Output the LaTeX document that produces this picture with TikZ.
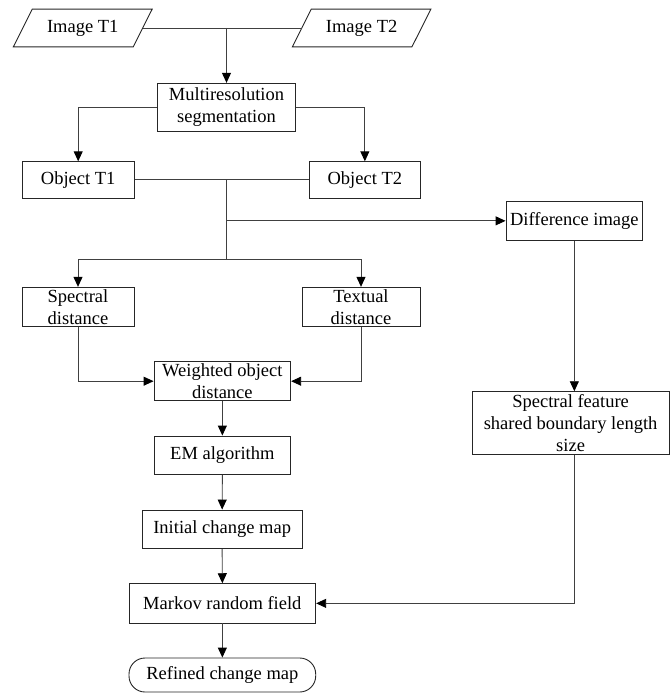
\documentclass[tikz,border=0pt]{standalone}
\usepackage{fontspec}
\setmainfont{Liberation Serif}
\usetikzlibrary{arrows.meta}
\tikzset{
  box/.style={draw=black!85, line width=0.9pt, inner sep=0pt, align=center,
    font=\fontsize{18.5}{22}\selectfont},
  para/.style={inner sep=0pt, align=center, font=\fontsize{18.5}{22}\selectfont},
  conn/.style={draw=black!75, line width=0.9pt},
  arr/.style={conn, -{Triangle[length=10pt,width=9pt,color=black]}},
}
\begin{document}
\begin{tikzpicture}[x=1pt,y=-1pt]
\useasboundingbox (0,0) rectangle (670,693);
% inputs (parallelograms)
\node[para, minimum width=119.5, minimum height=37.4] (t1) at (82.75,28) {Image T1};
\node[para, minimum width=119.2, minimum height=37.4] (t2) at (361.6,28) {Image T2};
\foreach \n in {t1,t2}{
  \draw[black!85, line width=0.9pt] ([xshift=9.5pt]\n.north west) -- ([xshift=9.5pt]\n.north east)
     -- ([xshift=-9.5pt]\n.south east) -- ([xshift=-9.5pt]\n.south west) -- cycle;
}
\node[box, minimum width=138.4, minimum height=48.4] (ms) at (226.5,107.5) {Multiresolution\\segmentation};
\node[box, minimum width=111.7, minimum height=36.3] (o1) at (78.2,179.9) {Object T1};
\node[box, minimum width=111.7, minimum height=36.3] (o2) at (364.85,179.9) {Object T2};
\node[box, minimum width=136.7, minimum height=39.7] (diff) at (574.35,220.85) {Difference image};
\node[box, minimum width=112, minimum height=39.4] (sd) at (78,307) {Spectral\\distance};
\node[box, minimum width=118, minimum height=39.4] (td) at (361,307) {Textual\\distance};
\node[box, minimum width=136.7, minimum height=39] (wod) at (222.35,381.2) {Weighted object\\distance};
\node[box, minimum width=136.7, minimum height=38.3] (em) at (222.35,455.15) {EM algorithm};
\node[box, minimum width=160.3, minimum height=38.7] (icm) at (222.15,529.35) {Initial change map};
\node[box, minimum width=186.7, minimum height=39.3] (mrf) at (222.35,603.35) {Markov random field};
\node[box, minimum width=186.7, minimum height=34, rounded corners=16pt] (rcm) at (222.35,675) {Refined change map};
\node[box, minimum width=197.3, minimum height=62.6] (sf) at (570.6,423) {Spectral feature\\shared boundary length\\size};
% connectors
\coordinate (j1) at (ms.north |- t1.east);
\draw[conn] (t1.east) -- (t2.west);
\draw[arr] (j1) -- (ms.north);
\draw[arr] (ms.west) -| (o1.north);
\draw[arr] (ms.east) -| (o2.north);
\coordinate (j2) at (ms.south |- o1.east);
\coordinate (j3) at ([yshift=-80pt]j2);
\coordinate (j4) at (j2 |- diff.west);
\draw[conn] (o1.east) -- (o2.west);
\draw[conn] (j2) -- (j3);
\draw[arr] (j4) -- (diff.west);
\draw[arr] (j3) -| (sd.north);
\draw[arr] (j3) -| (td.north);
\draw[arr] (sd.south) |- (wod.west);
\draw[arr] (td.south) |- (wod.east);
\draw[arr] (wod.south) -- (em.north);
\draw[arr] (em.south) -- (icm.north);
\draw[arr] (icm.south) -- (mrf.north);
\draw[arr] (mrf.south) -- (rcm.north);
\coordinate (k1) at (diff.south |- sf.north);
\coordinate (k2) at (diff.south |- sf.south);
\draw[arr] (diff.south) -- (k1);
\draw[arr] (k2) |- (mrf.east);
\end{tikzpicture}
\end{document}
